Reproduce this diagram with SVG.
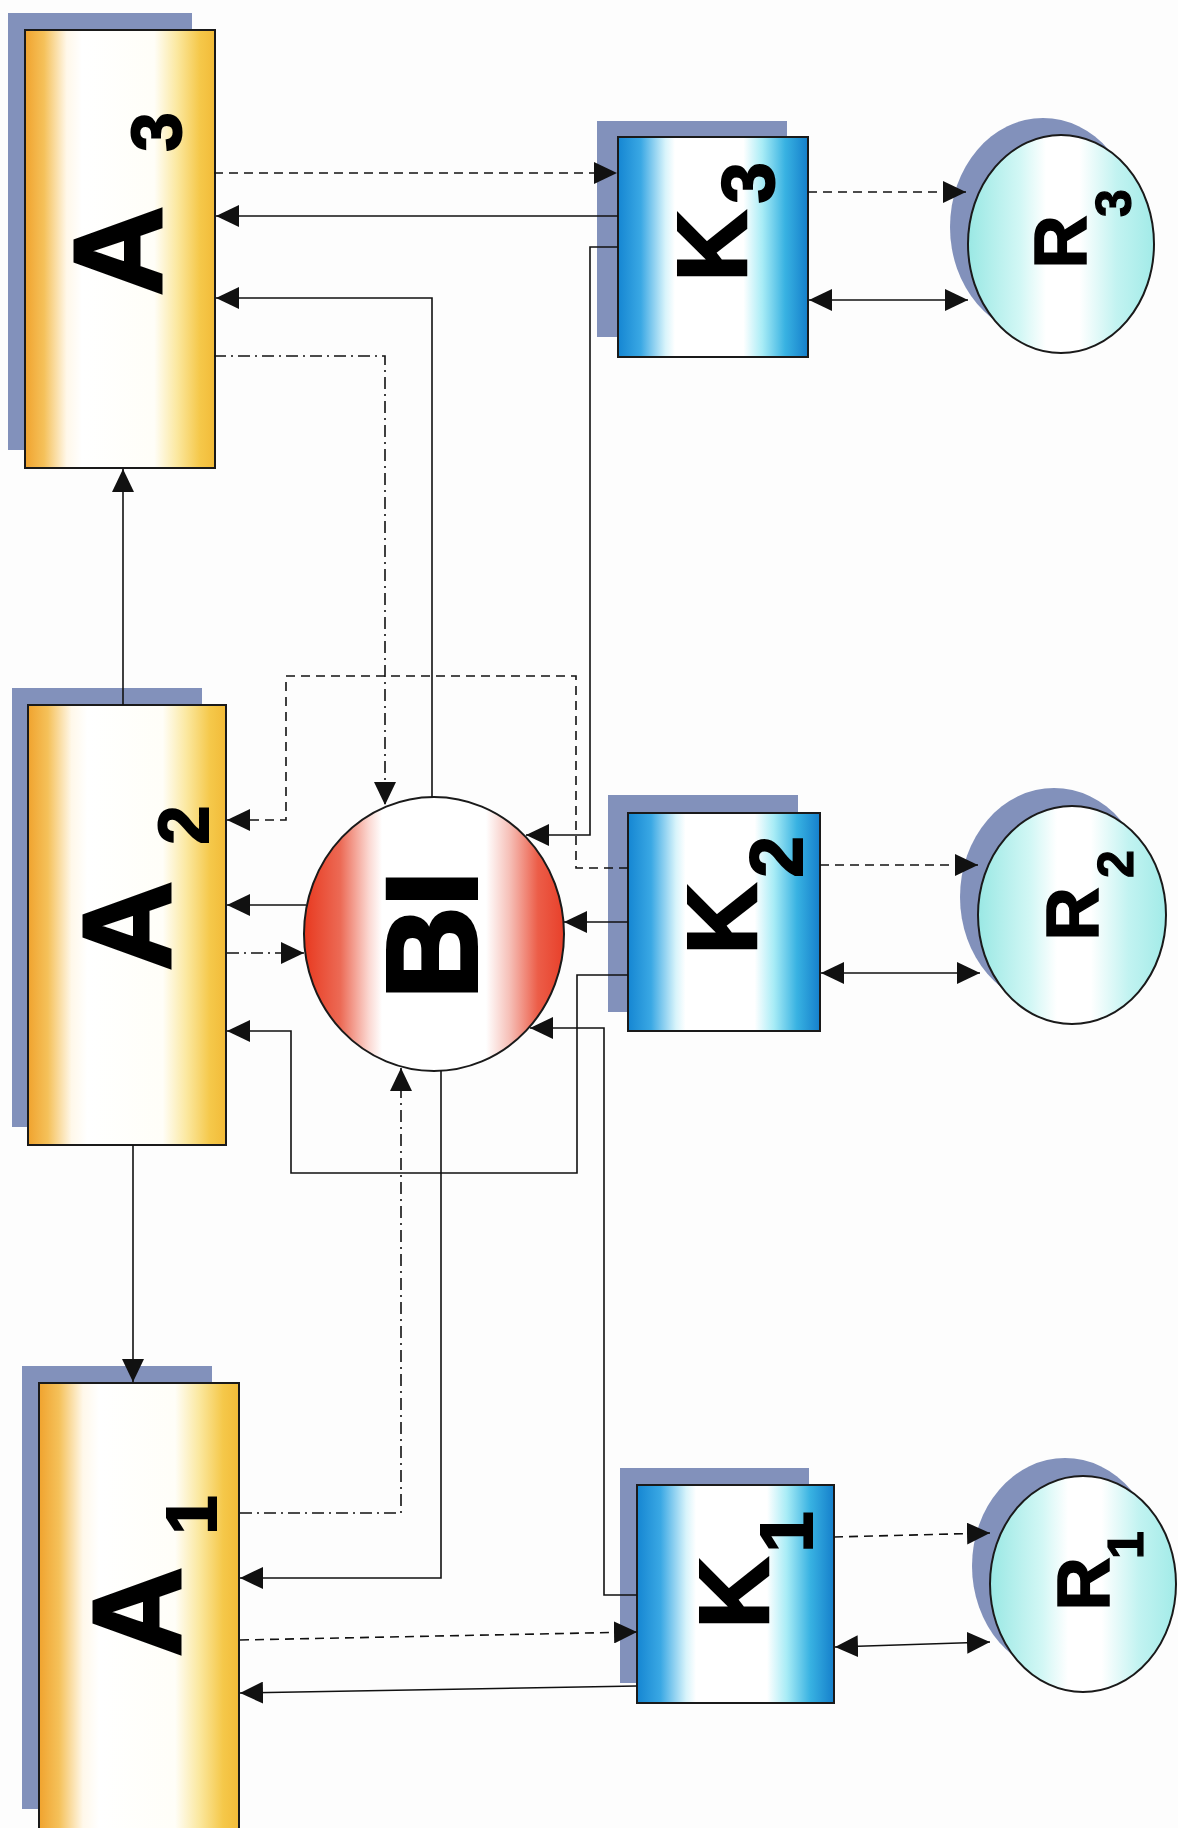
<svg xmlns="http://www.w3.org/2000/svg" width="1178" height="1828" viewBox="0 0 1178 1828">
<defs>
<linearGradient id="gA" x1="0" y1="0" x2="1" y2="0">
<stop offset="0" stop-color="#f0a32e"/><stop offset="0.1" stop-color="#f5c15a"/><stop offset="0.22" stop-color="#fff8ea"/><stop offset="0.3" stop-color="#ffffff"/><stop offset="0.68" stop-color="#fffef8"/><stop offset="0.8" stop-color="#fbe8a0"/><stop offset="0.92" stop-color="#f5c84a"/><stop offset="1" stop-color="#f2bb38"/>
</linearGradient>
<linearGradient id="gK" x1="0" y1="0" x2="1" y2="0">
<stop offset="0" stop-color="#1586d2"/><stop offset="0.12" stop-color="#3aa8e4"/><stop offset="0.25" stop-color="#d8f4fb"/><stop offset="0.3" stop-color="#ffffff"/><stop offset="0.66" stop-color="#ffffff"/><stop offset="0.76" stop-color="#a8ecf6"/><stop offset="0.88" stop-color="#38b2e2"/><stop offset="1" stop-color="#157fcb"/>
</linearGradient>
<linearGradient id="gR" x1="0" y1="0" x2="1" y2="0">
<stop offset="0" stop-color="#9ae8e4"/><stop offset="0.28" stop-color="#d2f7f5"/><stop offset="0.42" stop-color="#ffffff"/><stop offset="0.6" stop-color="#ffffff"/><stop offset="0.8" stop-color="#c2f3f1"/><stop offset="1" stop-color="#a2ebe8"/>
</linearGradient>
<linearGradient id="gB" x1="0" y1="0" x2="1" y2="0">
<stop offset="0" stop-color="#e8391f"/><stop offset="0.14" stop-color="#ec6a55"/><stop offset="0.25" stop-color="#fbd8d2"/><stop offset="0.3" stop-color="#ffffff"/><stop offset="0.7" stop-color="#ffffff"/><stop offset="0.79" stop-color="#f6c0b8"/><stop offset="0.9" stop-color="#ec5d48"/><stop offset="1" stop-color="#e8402a"/>
</linearGradient>
<marker id="ah" viewBox="0 0 23 22" refX="23" refY="11" markerWidth="23" markerHeight="22" markerUnits="userSpaceOnUse" orient="auto-start-reverse">
<path d="M0,0 L23,11 L0,22 z" fill="#111"/>
</marker>
<style>
.sh{fill:#8291bb}
.bx{stroke:#1a1a1a;stroke-width:2}
.a{fill:url(#gA)}
.k{fill:url(#gK)}
.r{fill:url(#gR)}
.b{fill:url(#gB)}
.lbl{font-family:"Liberation Sans",Arial,sans-serif;font-weight:bold;fill:#000;stroke:#000;text-anchor:middle}
.big{font-size:124px;stroke-width:3}
.bi{font-size:128px;stroke-width:4}
.kl{font-size:98px;stroke-width:2.5}
.sa{font-size:70px;stroke-width:2}
.sk{font-size:74px;stroke-width:2}
.rl{font-size:74px;stroke-width:1.5}
.sr{font-size:50px;stroke-width:1.2}
.ln{fill:none;stroke:#111;stroke-width:1.6}
.ds{stroke-dasharray:9 6}
.dd{stroke-dasharray:12 5 2 5}
.arr{marker-end:url(#ah)}
.dbl{marker-start:url(#ah);marker-end:url(#ah)}
</style>
</defs>
<rect width="1178" height="1828" fill="#fdfdfd"/>

<g id="A3">
<rect class="sh" x="8" y="13" width="184" height="437"/>
<rect class="bx a" x="25" y="30" width="190" height="438"/>
<text class="lbl" transform="rotate(-90)"><tspan class="big" x="-251" y="161">A</tspan><tspan class="sa" x="-132" y="181">3</tspan></text>
</g>
<g id="A2">
<rect class="sh" x="12" y="688" width="190" height="439"/>
<rect class="bx a" x="28" y="705" width="198" height="440"/>
<text class="lbl" transform="rotate(-90)"><tspan class="big" x="-926" y="170">A</tspan><tspan class="sa" x="-825" y="208">2</tspan></text>
</g>
<g id="A1">
<rect class="sh" x="22" y="1366" width="190" height="443"/>
<rect class="bx a" x="39" y="1383" width="200" height="450"/>
<text class="lbl" transform="rotate(-90)"><tspan class="big" x="-1612" y="180">A</tspan><tspan class="sa" x="-1515" y="216">1</tspan></text>
</g>

<g id="BI">
<ellipse class="bx b" cx="434" cy="934" rx="130" ry="137"/>
<text class="lbl bi" transform="rotate(-90)" x="-935" y="476">BI</text>
</g>

<g id="K3">
<rect class="sh" x="597" y="121" width="190" height="216"/>
<rect class="bx k" x="618" y="137" width="190" height="220"/>
<text class="lbl" transform="rotate(-90)"><tspan class="kl" x="-246" y="746">K</tspan><tspan class="sk" x="-183" y="774">3</tspan></text>
</g>
<g id="K2">
<rect class="sh" x="608" y="795" width="190" height="217"/>
<rect class="bx k" x="628" y="813" width="192" height="218"/>
<text class="lbl" transform="rotate(-90)"><tspan class="kl" x="-919" y="756">K</tspan><tspan class="sk" x="-857" y="802">2</tspan></text>
</g>
<g id="K1">
<rect class="sh" x="620" y="1468" width="189" height="215"/>
<rect class="bx k" x="637" y="1485" width="197" height="218"/>
<text class="lbl" transform="rotate(-90)"><tspan class="kl" x="-1593" y="768">K</tspan><tspan class="sk" x="-1532" y="812">1</tspan></text>
</g>

<g id="R3">
<ellipse class="sh" cx="1043" cy="227" rx="93" ry="109"/>
<ellipse class="bx r" cx="1061" cy="244" rx="93" ry="109"/>
<text class="lbl" transform="rotate(-90)"><tspan class="rl" x="-242" y="1086">R</tspan><tspan class="sr" x="-203" y="1131">3</tspan></text>
</g>
<g id="R2">
<ellipse class="sh" cx="1054" cy="897" rx="94" ry="109"/>
<ellipse class="bx r" cx="1072" cy="915" rx="94" ry="109"/>
<text class="lbl" transform="rotate(-90)"><tspan class="rl" x="-914" y="1098">R</tspan><tspan class="sr" x="-864" y="1133">2</tspan></text>
</g>
<g id="R1">
<ellipse class="sh" cx="1065" cy="1566" rx="93" ry="108"/>
<ellipse class="bx r" cx="1083" cy="1584" rx="93" ry="108"/>
<text class="lbl" transform="rotate(-90)"><tspan class="rl" x="-1584" y="1109">R</tspan><tspan class="sr" x="-1545" y="1143">1</tspan></text>
</g>

<g id="connectors">
<path class="ln ds arr" d="M214,173 H617"/>
<path class="ln arr" d="M618,216 H216"/>
<path class="ln arr" d="M432,797 V298 H216"/>
<path class="ln dd arr" d="M214,356 H385 V805"/>
<path class="ln arr" d="M618,247 H590 V835 H526"/>
<path class="ln ds arr" d="M628,868 H576 V676 H286 V820 H227"/>
<path class="ln arr" d="M306,905 H227"/>
<path class="ln dd arr" d="M227,953 H304"/>
<path class="ln arr" d="M628,922 H564"/>
<path class="ln arr" d="M628,975 H577 V1173 H291 V1031 H227"/>
<path class="ln arr" d="M637,1595 H604 V1028 H530"/>
<path class="ln arr" d="M441,1071 V1578 H240"/>
<path class="ln dd arr" d="M240,1513 H401 V1068"/>
<path class="ln ds arr" d="M240,1640 L637,1632"/>
<path class="ln arr" d="M637,1686 L240,1693"/>
<path class="ln arr" d="M123,705 V469"/>
<path class="ln arr" d="M133,1145 V1382"/>
<path class="ln ds arr" d="M808,192 H966"/>
<path class="ln dbl" d="M809,300 H968"/>
<path class="ln ds arr" d="M820,865 H978"/>
<path class="ln dbl" d="M821,973 H980"/>
<path class="ln ds arr" d="M834,1537 L990,1533"/>
<path class="ln dbl" d="M835,1647 L990,1642"/>
</g>
</svg>
